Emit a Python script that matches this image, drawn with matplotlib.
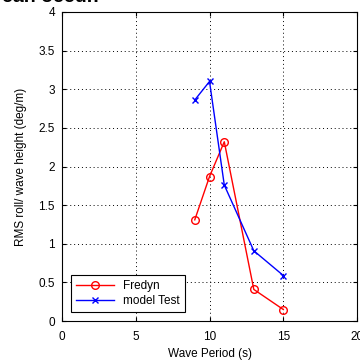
import matplotlib
matplotlib.use("Agg")
import matplotlib.pyplot as plt

plt.rcParams['font.family'] = ['Liberation Sans', 'DejaVu Sans']

# data
fredyn_period = [9, 10, 11, 13, 15]
fredyn_rms = [1.31, 1.87, 2.32, 0.41, 0.15]
model_period = [9, 10, 11, 13, 15]
model_rms = [2.86, 3.10, 1.76, 0.91, 0.59]

xticks = [0, 5, 10, 15, 20]
yticks = [0, 0.5, 1, 1.5, 2, 2.5, 3, 3.5, 4]

fig = plt.figure(figsize=(3.6, 3.6), dpi=100)
ax = fig.add_axes([0.172, 0.108, 0.82, 0.859])

ax.plot(fredyn_period, fredyn_rms, color='red', marker='o', mfc='none',
        ms=5.5, lw=1, label='Fredyn')
ax.plot(model_period, model_rms, color='blue', marker='x',
        ms=5, lw=1, label='model Test')

ax.set_xlim(0, 20)
ax.set_ylim(0, 4)
ax.set_xticks(xticks)
ax.set_yticks(yticks)
ax.set_yticklabels(['0', '0.5', '1', '1.5', '2', '2.5', '3', '3.5', '4'])
ax.tick_params(direction='in', labelsize=8.5, length=3, width=0.8, pad=5,
               top=True, right=True)
ax.tick_params(axis='x', pad=7)
ax.grid(True, color='black', linestyle=(0, (1, 3)), linewidth=0.7)
for s in ax.spines.values():
    s.set_linewidth(0.8)

ax.set_xlabel('Wave Period (s)', fontsize=8.5, labelpad=4)
ax.set_ylabel('RMS roll/ wave height (deg/m)', fontsize=8.5, labelpad=8)

leg = ax.legend(loc='lower left', fontsize=8.5, fancybox=False,
                edgecolor='black', framealpha=1, borderaxespad=0.8,
                handlelength=3.2, borderpad=0.4, labelspacing=0.25)
leg.get_frame().set_linewidth(0.8)

# partially visible line of text above the chart
fig.text(0.005, 1.03, 'can occur.', fontsize=14, fontweight='bold',
         ha='left', va='top')

fig.savefig('out.png', dpi=100)
